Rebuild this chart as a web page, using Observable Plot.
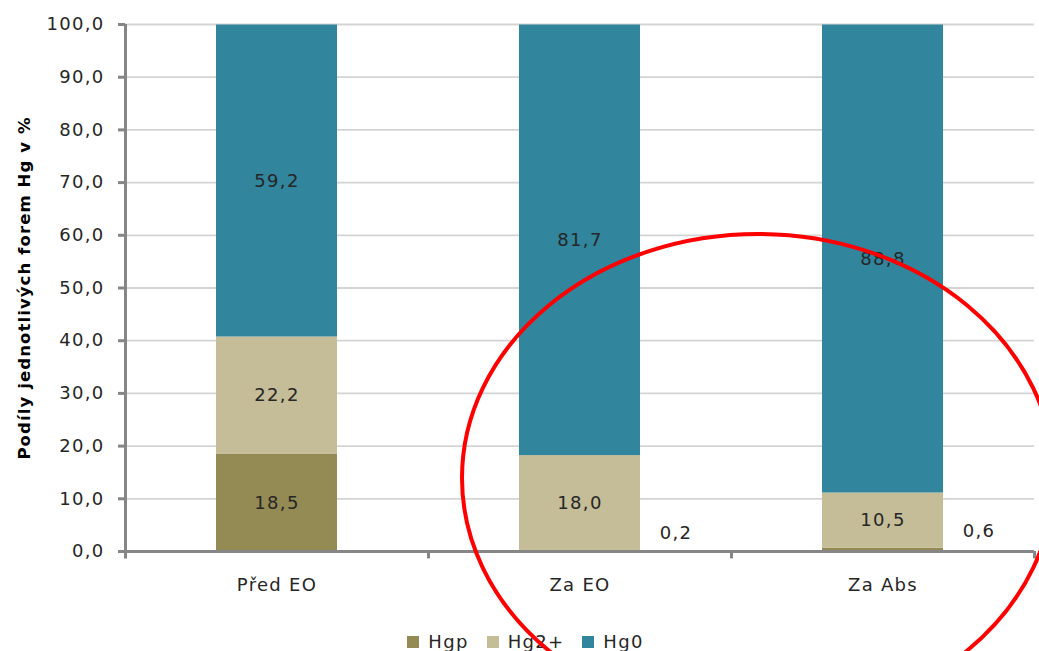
<!DOCTYPE html>
<html><head><meta charset="utf-8">
<script src="https://cdn.jsdelivr.net/npm/d3@7"></script>
<script src="https://cdn.jsdelivr.net/npm/@observablehq/plot@0.6"></script>
<style>
body{margin:0;background:#fff;font-family:"DejaVu Sans",Verdana,sans-serif}
#chart{position:relative}
#chart svg{display:block;overflow:visible;position:relative;z-index:1}
#chart svg text{letter-spacing:1.3px}
</style>
</head><body><div id="chart"></div>
<script>
const categories = ["Před EO", "Za EO", "Za Abs"];
const series = ["Hgp", "Hg2+", "Hg0"];
const hgp = [18.5, 0.2, 0.6];
const hg2 = [22.2, 18.0, 10.5];
const hg0 = [59.2, 81.7, 88.8];
const colors = ["#948A54", "#C4BD97", "#31859C"];
const yTicks = [0, 10, 20, 30, 40, 50, 60, 70, 80, 90, 100];
const yLabel = "Podíly jednotlivých forem Hg v %";

const data = [];
categories.forEach((c, i) => {
  data.push({cat: c, series: "Hgp", value: hgp[i]});
  data.push({cat: c, series: "Hg2+", value: hg2[i]});
  data.push({cat: c, series: "Hg0", value: hg0[i]});
});
const fmt = v => v.toFixed(1).replace(".", ",");

const W = 1039, H = 625, ML = 125, MR = 5, MT = 24, MB = 74;
const step = (W - ML - MR) / categories.length;
const axisColor = "#868686";
const textColor = "#262626";

const plot = Plot.plot({
  width: W, height: H,
  marginLeft: ML, marginRight: MR, marginTop: MT, marginBottom: MB,
  style: {fontFamily: "'DejaVu Sans', Verdana, sans-serif", background: "transparent", overflow: "visible"},
  x: {domain: categories, paddingInner: 0.6, paddingOuter: 0.3, label: null},
  y: {domain: [0, 100], label: null},
  color: {domain: series, range: colors},
  marks: [
    Plot.gridY(yTicks, {stroke: "#d4d4d4", strokeOpacity: 1, strokeWidth: 1.8}),
    Plot.barY(data, {x: "cat", y: "value", fill: "series", z: "series"}),
    Plot.text(data, Plot.stackY({
      x: "cat", y: "value", z: "series",
      text: d => d.value >= 5 ? fmt(d.value) : "",
      fill: textColor, fontSize: 18
    })),
    Plot.text(data.filter(d => d.value < 5), {
      x: "cat", y: "value", text: d => fmt(d.value),
      dx: 96, dy: -17, fill: textColor, fontSize: 18
    }),
    Plot.ruleY([0], {stroke: axisColor, strokeWidth: 3}),
    Plot.ruleX([categories[0]], {x: d => d, y1: -1.4, y2: 100, dx: -step / 2, stroke: axisColor, strokeWidth: 3}),
    Plot.ruleX(categories, {x: d => d, y1: 0, y2: -1.4, dx: step / 2, stroke: axisColor, strokeWidth: 3}),
    Plot.axisY(yTicks, {tickSize: 7, tickPadding: 14, tickFormat: fmt, fontSize: 18,
      stroke: axisColor, strokeWidth: 3, fill: textColor, label: null}),
    Plot.axisX({tickSize: 0, tickPadding: 27, fontSize: 18, fill: textColor, label: null}),
    Plot.text([yLabel], {frameAnchor: "left", rotate: -90, dx: -101, fontWeight: "bold",
      fontSize: 16.5, fill: "#000", textAnchor: "middle", text: d => d})
  ]
});

d3.select(plot).selectAll("text")
  .filter(function() { return this.textContent === yLabel; })
  .style("letter-spacing", "1.1px");

// red hand-drawn annotation ellipse over the chart
d3.select(plot).append("ellipse")
  .attr("cx", 758).attr("cy", 478).attr("rx", 296).attr("ry", 244)
  .attr("fill", "none").attr("stroke", "#ff0000").attr("stroke-width", 4);

document.getElementById("chart").appendChild(plot);

const legend = plot.legend("color", {
  swatchSize: 12,
  style: {fontSize: "18px", fontFamily: "'DejaVu Sans', Verdana, sans-serif", letterSpacing: "1.3px",
    color: textColor, justifyContent: "center", marginLeft: "0px", paddingLeft: "30px", minHeight: "33px"}
});
document.getElementById("chart").appendChild(legend);
</script>
</body></html>
